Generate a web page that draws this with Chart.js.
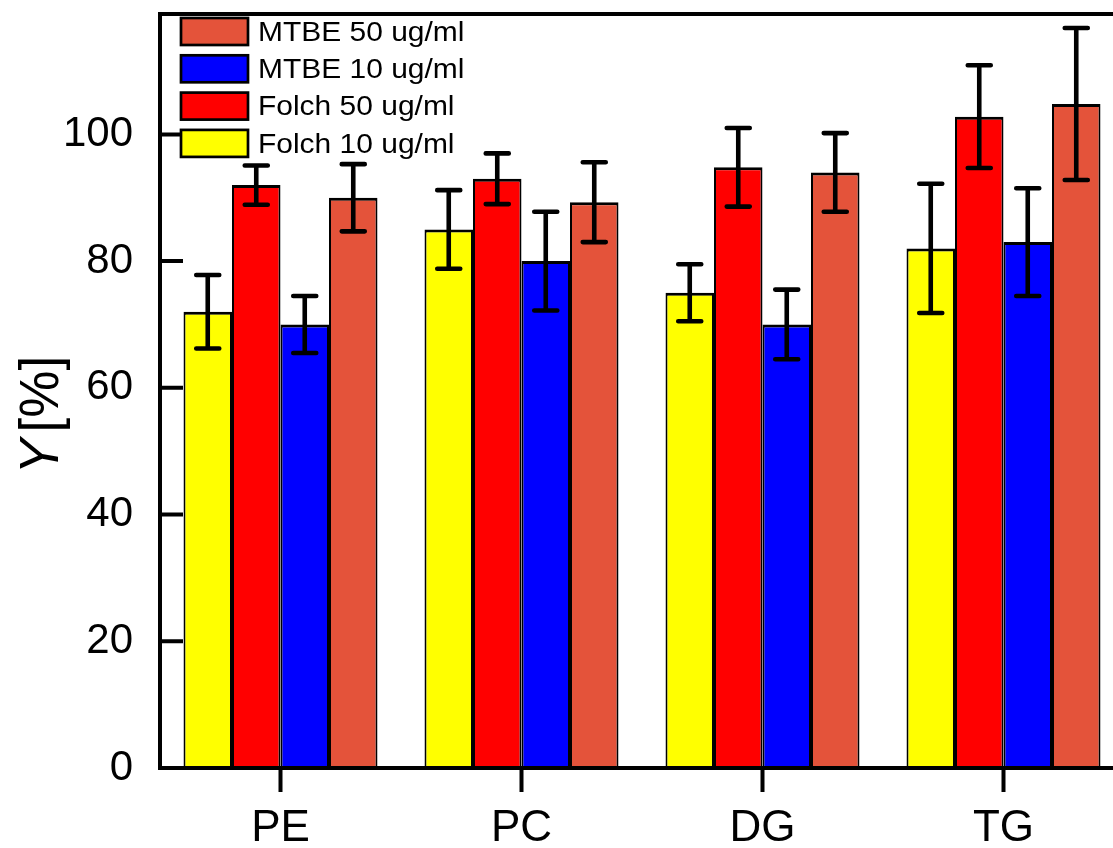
<!DOCTYPE html>
<html>
<head>
<meta charset="utf-8">
<script src="https://cdn.jsdelivr.net/npm/chart.js@4.4.1/dist/chart.umd.min.js"></script>
<style>
  html, body { margin: 0; padding: 0; overflow: hidden; background: #ffffff; }
  #wrap { width: 1130px; height: 848px; position: relative; }
</style>
</head>
<body>
<div id="wrap"><canvas id="c"></canvas></div>
<script>
// Lipid classes on the x axis
const categories = ['PE', 'PC', 'DG', 'TG'];

// Recovery Y [%] and standard deviations per extraction method / concentration
const folch10    = [72, 85, 75, 82];
const folch10Err = [5.8, 6.2, 4.5, 10.2];
const folch50    = [92, 93, 94.8, 102.8];
const folch50Err = [3.1, 4.0, 6.2, 8.1];
const mtbe10     = [70, 80, 70, 83];
const mtbe10Err  = [4.5, 7.8, 5.5, 8.5];
const mtbe50     = [90, 89.3, 94, 104.8];
const mtbe50Err  = [5.3, 6.3, 6.2, 12];

const seriesLabels = ['Folch 10 ug/ml', 'Folch 50 ug/ml', 'MTBE 10 ug/ml', 'MTBE 50 ug/ml'];
const yTicks = [0, 20, 40, 60, 80, 100];
const yMax = 119;

const FONT = '"Liberation Sans", Arial, Helvetica, sans-serif';
const INK = '#000000';

// Error bars (mean ± SD) drawn through the y scale
const errorBarPlugin = {
  id: 'errorBars',
  afterDatasetsDraw(chart) {
    const ctx = chart.ctx;
    const y = chart.scales.y;
    ctx.save();
    ctx.strokeStyle = INK;
    ctx.lineWidth = 4.6;
    ctx.lineCap = 'round';
    chart.data.datasets.forEach((ds, i) => {
      const meta = chart.getDatasetMeta(i);
      meta.data.forEach((bar, j) => {
        const v = ds.data[j];
        const e = ds.errors[j];
        const yt = y.getPixelForValue(v + e);
        const yb = y.getPixelForValue(v - e);
        const x = bar.x;
        const cap = 11.5;
        ctx.beginPath();
        ctx.moveTo(x, yt); ctx.lineTo(x, yb);
        ctx.moveTo(x - cap, yt); ctx.lineTo(x + cap, yt);
        ctx.moveTo(x - cap, yb); ctx.lineTo(x + cap, yb);
        ctx.stroke();
      });
    });
    ctx.restore();
  }
};

// Boxed frame, inward y ticks, outward x ticks, legend and axis title
const framePlugin = {
  id: 'frame',
  afterDraw(chart) {
    const ctx = chart.ctx;
    const a = chart.chartArea;
    const xs = chart.scales.x;
    const ys = chart.scales.y;
    ctx.save();
    ctx.strokeStyle = INK;
    ctx.lineWidth = 4;
    ctx.strokeRect(a.left, a.top, a.right - a.left, a.bottom - a.top);

    ctx.beginPath();
    ys.ticks.forEach(t => {
      const py = ys.getPixelForValue(t.value);
      ctx.moveTo(a.left, py); ctx.lineTo(a.left + 23, py);
    });
    categories.forEach((c, i) => {
      const px = xs.getPixelForValue(i);
      ctx.moveTo(px, a.bottom); ctx.lineTo(px, a.bottom + 24);
    });
    ctx.stroke();

    // legend, top entry = last dataset
    const box = { x: 181, y: 18, w: 67, h: 27, step: 37.3, textX: 258 };
    const order = chart.data.datasets.slice().reverse();
    ctx.font = '28px ' + FONT;
    ctx.textBaseline = 'middle';
    ctx.textAlign = 'left';
    order.forEach((ds, k) => {
      const top = box.y + k * box.step;
      ctx.fillStyle = ds.backgroundColor;
      ctx.fillRect(box.x, top, box.w, box.h);
      ctx.lineWidth = 2.7;
      ctx.strokeStyle = INK;
      ctx.strokeRect(box.x, top, box.w, box.h);
      ctx.fillStyle = INK;
      ctx.save();
      ctx.translate(box.textX, top + box.h / 2 + 1.5);
      ctx.scale(1.07, 1);
      ctx.fillText(ds.label, 0, 0);
      ctx.restore();
    });

    // y axis title: italic Y followed by [%]
    const size = 53;
    ctx.save();
    ctx.translate(58, 415);
    ctx.rotate(-Math.PI / 2);
    ctx.scale(1, 1.06);
    ctx.fillStyle = INK;
    ctx.textBaseline = 'alphabetic';
    ctx.font = 'italic ' + size + 'px ' + FONT;
    const wY = ctx.measureText('Y').width;
    ctx.font = size + 'px ' + FONT;
    const wR = ctx.measureText('[%]').width;
    const gap = 0.12 * size;
    const start = -(wY + gap + wR) / 2;
    ctx.font = 'italic ' + size + 'px ' + FONT;
    ctx.fillText('Y', start, 0);
    ctx.font = size + 'px ' + FONT;
    ctx.fillText('[%]', start + wY + gap, 0);
    ctx.restore();

    ctx.restore();
  }
};

const barStyle = {
  borderColor: INK,
  borderWidth: { top: 3, left: 2, right: 2, bottom: 0 },
  borderSkipped: false,
  categoryPercentage: 0.805,
  barPercentage: 1.0
};

new Chart(document.getElementById('c'), {
  type: 'bar',
  data: {
    labels: categories,
    datasets: [
      Object.assign({ label: seriesLabels[0], data: folch10, errors: folch10Err, backgroundColor: '#FFFF00' }, barStyle),
      Object.assign({ label: seriesLabels[1], data: folch50, errors: folch50Err, backgroundColor: '#FF0000' }, barStyle),
      Object.assign({ label: seriesLabels[2], data: mtbe10,  errors: mtbe10Err,  backgroundColor: '#0000FF' }, barStyle),
      Object.assign({ label: seriesLabels[3], data: mtbe50,  errors: mtbe50Err,  backgroundColor: '#E4533A' }, barStyle)
    ]
  },
  options: {
    responsive: true,
    maintainAspectRatio: false,
    animation: false,
    devicePixelRatio: 1,
    layout: { padding: { top: 14, right: 6, left: 0, bottom: 0 } },
    plugins: { legend: { display: false }, tooltip: { enabled: false } },
    scales: {
      x: {
        offset: true,
        grid: { display: false, drawTicks: false },
        border: { display: false },
        ticks: { color: INK, padding: 34, maxRotation: 0, font: { family: FONT, size: 44 } },
        afterFit(s) { s.height = 80; s.paddingLeft = 0; s.paddingRight = 0; }
      },
      y: {
        min: 0,
        max: yMax,
        grid: { display: false, drawTicks: false },
        border: { display: false },
        ticks: { color: INK, padding: 27, font: { family: FONT, size: 42 } },
        afterBuildTicks(s) { s.ticks = yTicks.map(v => ({ value: v })); },
        afterFit(s) { s.width = 160; s.paddingTop = 0; s.paddingBottom = 0; }
      }
    }
  },
  plugins: [errorBarPlugin, framePlugin]
});
</script>
</body>
</html>
